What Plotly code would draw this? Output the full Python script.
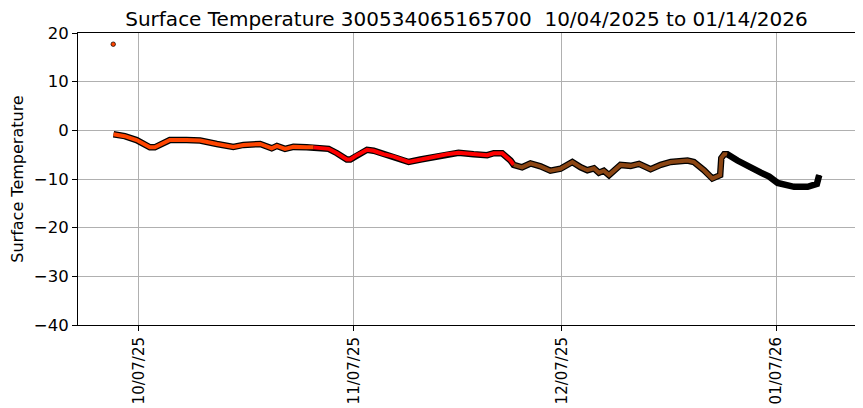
import plotly.graph_objects as go

# surface temperature readings (one list per colour band)
oct_dates = ["2025-10-03 08:00", "2025-10-04 23:00", "2025-10-06 16:00", "2025-10-08 14:00",
             "2025-10-09 07:00", "2025-10-11 11:00", "2025-10-13 21:00", "2025-10-15 20:00",
             "2025-10-18 06:00", "2025-10-20 15:00", "2025-10-22 02:00", "2025-10-24 12:00",
             "2025-10-26 04:00", "2025-10-26 22:00", "2025-10-28 02:00", "2025-10-29 07:00",
             "2025-10-31 05:00"]
oct_temps = [-0.8, -1.2, -2.0, -3.5, -3.5, -2.0, -2.0, -2.1, -2.8, -3.4, -3.0, -2.8,
             -3.7, -3.2, -3.8, -3.4, -3.5]

nov_dates = ["2025-11-01 05:00", "2025-11-03 09:00", "2025-11-04 14:00", "2025-11-06 00:00",
             "2025-11-06 12:00", "2025-11-07 11:00", "2025-11-08 22:00", "2025-11-09 21:00",
             "2025-11-11 07:00", "2025-11-12 18:00", "2025-11-14 22:00", "2025-11-16 15:00",
             "2025-11-19 00:00", "2025-11-20 11:00", "2025-11-22 03:00", "2025-11-24 07:00",
             "2025-11-26 06:00", "2025-11-27 05:00", "2025-11-28 10:00", "2025-11-29 15:00"]
nov_temps = [-3.5, -3.8, -4.7, -6.0, -6.0, -5.1, -4.0, -4.2, -4.9, -5.4, -6.5, -6.0,
             -5.5, -4.9, -4.6, -4.9, -5.1, -4.7, -4.7, -6.2]

dec_dates = ["2025-11-30 02:00", "2025-12-01 07:00", "2025-12-02 12:00", "2025-12-03 23:00",
             "2025-12-05 09:00", "2025-12-06 20:00", "2025-12-08 13:00", "2025-12-09 18:00",
             "2025-12-10 17:00", "2025-12-11 16:00", "2025-12-12 09:00", "2025-12-13 02:00",
             "2025-12-13 20:00", "2025-12-15 12:00", "2025-12-16 23:00", "2025-12-18 04:00",
             "2025-12-19 20:00", "2025-12-21 07:00", "2025-12-22 18:00", "2025-12-25 04:00",
             "2025-12-26 02:00", "2025-12-27 13:00", "2025-12-28 18:00", "2025-12-29 21:00",
             "2025-12-30 01:00", "2025-12-30 11:00"]
dec_temps = [-7.1, -7.6, -6.8, -7.4, -8.3, -7.9, -6.5, -7.6, -8.2, -7.8, -8.7, -8.3,
             -9.2, -7.1, -7.3, -6.9, -8.0, -7.1, -6.5, -6.2, -6.5, -8.2, -9.9, -9.2,
             -5.7, -4.9]

jan_dates = ["2025-12-30 22:00", "2026-01-01 09:00", "2026-01-03 07:00", "2026-01-04 18:00",
             "2026-01-05 23:00", "2026-01-07 04:00", "2026-01-09 13:00", "2026-01-11 12:00",
             "2026-01-12 20:00", "2026-01-13 04:00"]
jan_temps = [-4.9, -6.2, -7.8, -8.7, -9.5, -10.8, -11.6, -11.6, -11.0, -9.2]

spike_date = ["2025-10-03 07:00"]
spike_temp = [17.7]

tick_dates = ["2025-10-07", "2025-11-07", "2025-12-07", "2026-01-07"]
tick_labels = ["10/07/25", "11/07/25", "12/07/25", "01/07/26"]

segments = [
    (oct_dates, oct_temps, "#ff4500"),
    (nov_dates, nov_temps, "#ff0000"),
    (dec_dates, dec_temps, "#8b4513"),
    (jan_dates, jan_temps, "#000000"),
]

fig = go.Figure()

# black outline under the whole track
all_dates = oct_dates + nov_dates + dec_dates + jan_dates
all_temps = oct_temps + nov_temps + dec_temps + jan_temps
fig.add_trace(go.Scatter(x=all_dates, y=all_temps, mode="lines",
                         line=dict(color="black", width=6.5), hoverinfo="skip"))

# coloured core, each band joined to the first point of the next one
for i, (d, t, c) in enumerate(segments):
    if i + 1 < len(segments):
        d = d + segments[i + 1][0][:1]
        t = t + segments[i + 1][1][:1]
    fig.add_trace(go.Scatter(x=d, y=t, mode="lines", line=dict(color=c, width=4)))

fig.add_trace(go.Scatter(x=spike_date, y=spike_temp, mode="markers",
                         marker=dict(color="#ff4500", size=4.5,
                                     line=dict(color="black", width=0.7))))

# page body has an 8px margin, so the plot box is pulled up/left by that much
font = "DejaVu Sans"
fig.update_layout(
    width=863, height=408,
    margin=dict(l=70, r=16, t=25, b=91, autoexpand=False),
    paper_bgcolor="white", plot_bgcolor="white",
    showlegend=False,
    font=dict(family=font, color="black", size=16),
    title=dict(text="Surface Temperature 300534065165700  10/04/2025 to 01/14/2026",
               xref="paper", x=0.5, xanchor="center",
               yref="container", y=0.973, yanchor="middle",
               font=dict(size=20)),
)
fig.update_xaxes(
    type="date", automargin=False,
    range=["2025-09-28 05:00", "2026-01-18 08:00"],
    tickvals=tick_dates, ticktext=tick_labels, tickangle=-90,
    tickfont=dict(size=15),
    showgrid=True, gridcolor="#b0b0b0", gridwidth=1,
    showline=True, linecolor="black", linewidth=1, mirror=True,
    ticks="outside", ticklen=5, tickcolor="black", zeroline=False,
)
fig.update_yaxes(
    range=[-40, 20], dtick=10, automargin=False,
    tickfont=dict(size=16.5),
    title=dict(text="Surface Temperature", font=dict(size=16), standoff=10),
    showgrid=True, gridcolor="#b0b0b0", gridwidth=1,
    showline=True, linecolor="black", linewidth=1, mirror=True,
    ticks="outside", ticklen=5, tickcolor="black", zeroline=False,
)

fig.write_html("out.html")
